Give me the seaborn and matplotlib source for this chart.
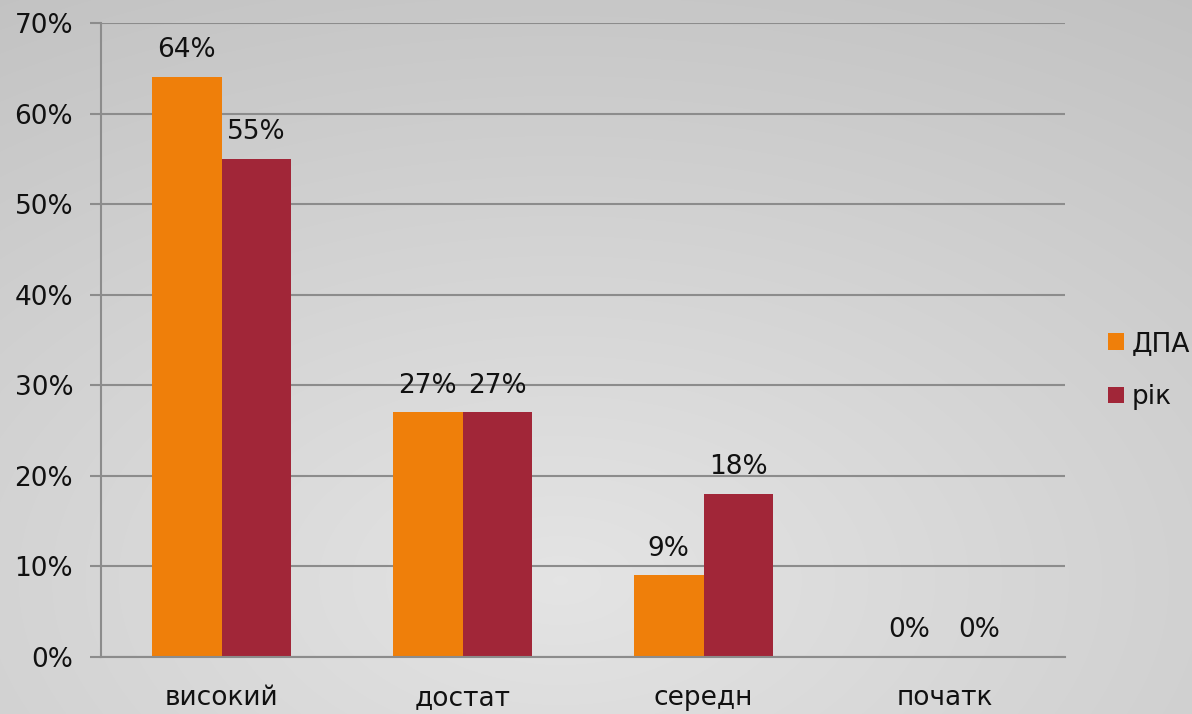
import numpy as np
import pandas as pd
import matplotlib
matplotlib.use("Agg")
import matplotlib.pyplot as plt
import seaborn as sns

categories = ["високий", "достат", "середн", "початк"]
series_names = ["ДПА", "рік"]
dpa_values = [64, 27, 9, 0]
rik_values = [55, 27, 18, 0]
y_ticks = [0, 10, 20, 30, 40, 50, 60, 70]
colors = ["#EF7F0A", "#A12638"]

df = pd.DataFrame({
    "category": categories * 2,
    "series": [series_names[0]] * 4 + [series_names[1]] * 4,
    "value": dpa_values + rik_values,
})

sns.set_theme(style="white")
plt.rcParams["font.family"] = ["DejaVu Sans"]
FS = 19

fig = plt.figure(figsize=(11.92, 7.14), dpi=100)

# background radial gradient
bg = fig.add_axes([0, 0, 1, 1], zorder=-10)
yy, xx = np.mgrid[0:714, 0:1192]
d = np.sqrt(((xx - 560) / 1192.0) ** 2 + ((yy - 580) / 714.0) ** 2)
val = 0.895 - 0.14 * d
bg.imshow(np.dstack([val, val, val]).clip(0, 1), aspect="auto", extent=[0, 1, 0, 1])
bg.axis("off")

ax = fig.add_axes([101 / 1192, 1 - 657 / 714, (1065 - 101) / 1192, (657 - 23) / 714])
ax.patch.set_alpha(0)

sns.barplot(data=df, x="category", y="value", hue="series", palette=colors,
            width=0.58, gap=0, saturation=1, ax=ax, legend=True, edgecolor="none")

for c in ax.containers:
    ax.bar_label(c, labels=[f"{int(v)}%" for v in c.datavalues], padding=10,
                 fontsize=FS, color="#111111")

ax.set_ylim(0, 70)
ax.set_xlim(-0.5, 3.5)
ax.set_yticks(y_ticks)
ax.set_yticklabels([f"{t}%" for t in y_ticks], fontsize=FS, color="#111111")
ax.yaxis.grid(True, color="#8c8c8c", linewidth=1.5)
ax.set_axisbelow(True)

ax.set_xticks(np.arange(-0.5, 4.0, 1.0))
ax.set_xticklabels([""] * 5)
ax.set_xticks(np.arange(4), minor=True)
ax.set_xticklabels(categories, minor=True, fontsize=FS, color="#111111")
ax.tick_params(axis="x", which="major", direction="out", length=8, width=1.5, color="#8c8c8c")
ax.tick_params(axis="x", which="minor", length=0, pad=20)
ax.tick_params(axis="y", direction="out", length=8, width=1.5, color="#8c8c8c", pad=12, left=True)

for s in ["top", "right"]:
    ax.spines[s].set_visible(False)
for s in ["left", "bottom"]:
    ax.spines[s].set_color("#8c8c8c")
    ax.spines[s].set_linewidth(1.5)
ax.set_xlabel("")
ax.set_ylabel("")

leg = ax.legend(loc="center left", bbox_to_anchor=(1.034, 0.452), frameon=False,
                fontsize=FS, handlelength=0.6, handleheight=0.6, handletextpad=0.3,
                labelspacing=1.05, borderaxespad=0.0)
for t in leg.get_texts():
    t.set_color("#111111")

fig.savefig("out.png", dpi=100)
